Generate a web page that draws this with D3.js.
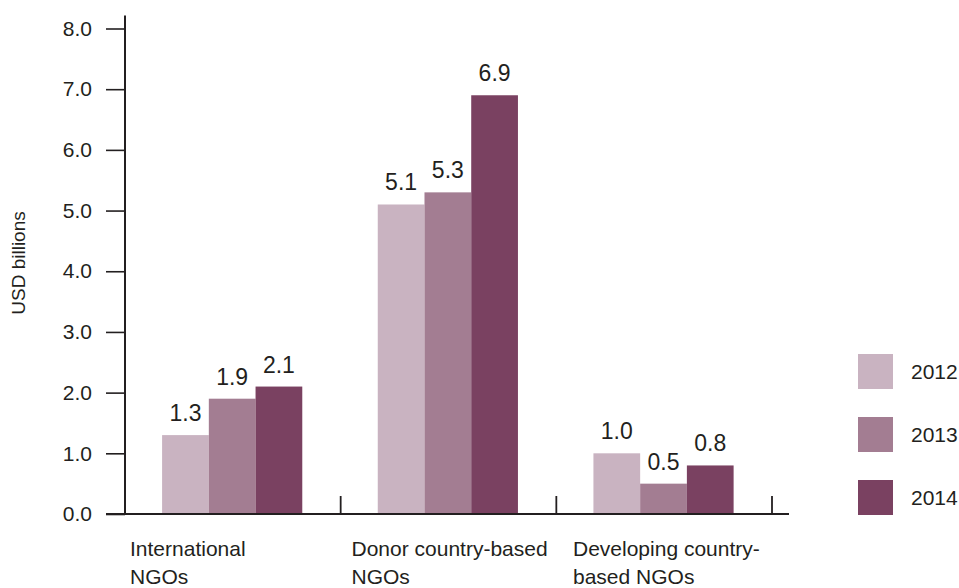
<!DOCTYPE html>
<html>
<head>
<meta charset="utf-8">
<script src="https://cdn.jsdelivr.net/npm/d3@7"></script>
<style>
  html, body { margin: 0; padding: 0; background: #fff; }
  svg text { font-family: "Liberation Sans", Arial, sans-serif; fill: #231f20; }
</style>
</head>
<body>
<svg id="chart" width="959" height="588"></svg>
<script>
const categories = ["International NGOs", "Donor country-based NGOs", "Developing country-based NGOs"];
const categoryLines = [["International", "NGOs"], ["Donor country-based", "NGOs"], ["Developing country-", "based NGOs"]];
const years = ["2012", "2013", "2014"];
const values2012 = [1.3, 5.1, 1.0];
const values2013 = [1.9, 5.3, 0.5];
const values2014 = [2.1, 6.9, 0.8];
const yTicks = [0, 1, 2, 3, 4, 5, 6, 7, 8];
const colors = ["#c9b3c1", "#a37d92", "#7a4161"];
const yTitle = "USD billions";

const seriesValues = [values2012, values2013, values2014];
const data = categories.map((c, i) => ({
  category: c,
  lines: categoryLines[i],
  values: years.map((yr, j) => ({ year: yr, value: seriesValues[j][i] }))
}));

const svg = d3.select("#chart");
const ink = "#231f20";

const y = d3.scaleLinear().domain([0, 8]).range([514, 28.5]);
const x0 = d3.scaleBand().domain(categories).range([125, 772]).padding(0);
const bw = x0.bandwidth();
const x1 = d3.scaleBand().domain(years).range([bw * 0.172, bw * 0.822]).padding(0);
const color = d3.scaleOrdinal().domain(years).range(colors);
const labelX = d3.scalePoint().domain(categories).range([130, 573]);

// Y axis
const yAxis = d3.axisLeft(y)
  .tickValues(yTicks)
  .tickFormat(d3.format(".1f"))
  .tickSize(19)
  .tickSizeOuter(0)
  .tickPadding(14);
const gy = svg.append("g").attr("transform", "translate(125,0)").call(yAxis);
gy.select(".domain").remove();
gy.selectAll(".tick line").attr("stroke", ink).attr("stroke-width", 1.6);
gy.selectAll(".tick text").attr("font-size", 21).attr("font-family", "Liberation Sans, Arial, sans-serif").attr("fill", ink);
svg.append("line")
  .attr("x1", 125).attr("x2", 125)
  .attr("y1", y(8) - 13).attr("y2", y(0))
  .attr("stroke", ink).attr("stroke-width", 2);

// Bars
const groups = svg.append("g").selectAll("g.group")
  .data(data).join("g")
  .attr("class", "group")
  .attr("transform", d => `translate(${x0(d.category)},0)`);

groups.selectAll("rect")
  .data(d => d.values).join("rect")
  .attr("x", d => x1(d.year))
  .attr("width", x1.bandwidth())
  .attr("y", d => y(d.value))
  .attr("height", d => y(0) - y(d.value))
  .attr("fill", d => color(d.year));

groups.selectAll("text.val")
  .data(d => d.values).join("text")
  .attr("class", "val")
  .attr("x", d => x1(d.year) + x1.bandwidth() / 2)
  .attr("y", d => y(d.value) - 14)
  .attr("text-anchor", "middle")
  .attr("font-size", 23)
  .text(d => d3.format(".1f")(d.value));

// X axis
svg.append("line")
  .attr("x1", 106).attr("x2", 789)
  .attr("y1", y(0)).attr("y2", y(0))
  .attr("stroke", ink).attr("stroke-width", 2);
svg.append("g").selectAll("line")
  .data(categories).join("line")
  .attr("x1", d => x0(d) + bw).attr("x2", d => x0(d) + bw)
  .attr("y1", y(0)).attr("y2", y(0) - 18)
  .attr("stroke", ink).attr("stroke-width", 1.8);

// Category labels
const cl = svg.append("g").selectAll("text.cat")
  .data(data).join("text")
  .attr("class", "cat")
  .attr("x", d => labelX(d.category))
  .attr("y", 556)
  .attr("font-size", 21);
cl.selectAll("tspan")
  .data(d => d.lines).join("tspan")
  .attr("x", function() { return d3.select(this.parentNode).attr("x"); })
  .attr("dy", (d, i) => i === 0 ? 0 : 28)
  .text(d => d);

// Y title
svg.append("text")
  .attr("transform", "translate(25,263) rotate(-90)")
  .attr("text-anchor", "middle")
  .attr("font-size", 19)
  .text(yTitle);

// Legend
const legY = d3.scalePoint().domain(years).range([354, 480]);
const leg = svg.append("g").selectAll("g")
  .data(years).join("g")
  .attr("transform", d => `translate(858,${legY(d)})`);
leg.append("rect").attr("width", 35).attr("height", 35).attr("fill", d => color(d));
leg.append("text").attr("x", 53).attr("y", 25).attr("font-size", 21).text(d => d);
</script>
</body>
</html>
